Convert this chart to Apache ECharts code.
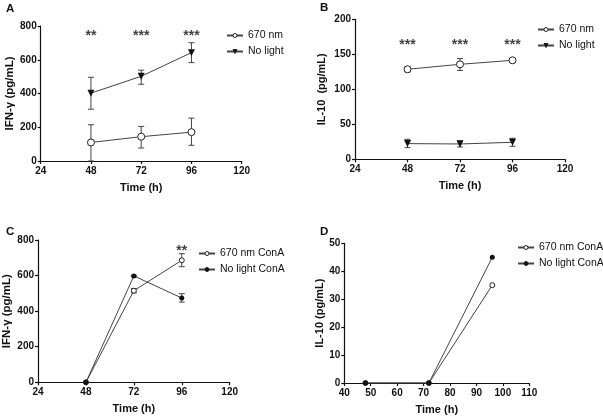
<!DOCTYPE html>
<html>
<head>
<meta charset="utf-8">
<script src="https://cdn.jsdelivr.net/npm/echarts@6/dist/echarts.min.js"></script>
<style>html,body{margin:0;padding:0;background:#fff;}#c{width:603px;height:419px;}</style>
</head>
<body>
<div id="c"></div>
<script>
// ---- data ----
const times = [48, 72, 96];
// Panel A: IFN-gamma
const aLightMean = [110, 144, 171];
const aLightLo   = [0, 77, 93];
const aLightHi   = [215, 205, 254];
const aDarkMean  = [402, 502, 642];
const aDarkLo    = [307, 455, 583];
const aDarkHi    = [496, 538, 701];
const aStars     = ['**', '***', '***'];
const aStarY     = 757;
// Panel B: IL-10
const bLightMean = [128.6, 135.7, 141.4];
const bLightLo   = [125, 127, 139.5];
const bLightHi   = [132, 144, 143.5];
const bDarkMean  = [22.4, 21.9, 24.3];
const bDarkLo    = [16.7, 17.6, 18.6];
const bDarkHi    = [28.6, 26.7, 30];
const bStars     = ['***', '***', '***'];
const bStarY     = 167;
// Panel C: IFN-gamma ConA
const cLightMean = [0, 515, 686];
const cLightLo   = [0, 503, 650];
const cLightHi   = [0, 527, 723];
const cDarkMean  = [0, 598, 474];
const cDarkLo    = [0, 594, 451];
const cDarkHi    = [0, 602, 498];
const cStarTimes = [96];
const cStars     = ['**'];
const cStarY     = 757;
// Panel D: IL-10 ConA
const dLightMean = [0, 0, 35];
const dDarkMean  = [0, 0, 45];

const seriesNamesAB = ['670 nm', 'No light'];
const seriesNamesCD = ['670 nm ConA', 'No light ConA'];

// ---- helpers ----
const FONT = 'Liberation Sans, Arial, sans-serif';
const INK = '#111';
const LINE = '#444';
const pairs = (xs, ys) => xs.map((x, i) => [x, ys[i]]);
const triples = (xs, lo, hi) => xs.map((x, i) => [x, lo[i], hi[i]]);

function errSeries(idx, xs, lo, hi) {
  return {
    type: 'custom', xAxisIndex: idx, yAxisIndex: idx, silent: true, z: 3,
    data: triples(xs, lo, hi),
    renderItem: function (params, api) {
      const x = api.value(0);
      const top = api.coord([x, api.value(2)]);
      const bot = api.coord([x, api.value(1)]);
      const w = 3;
      const st = { stroke: LINE, lineWidth: 1 };
      return {
        type: 'group', children: [
          { type: 'line', shape: { x1: top[0], y1: top[1], x2: bot[0], y2: bot[1] }, style: st },
          { type: 'line', shape: { x1: top[0] - w, y1: top[1], x2: top[0] + w, y2: top[1] }, style: st },
          { type: 'line', shape: { x1: bot[0] - w, y1: bot[1], x2: bot[0] + w, y2: bot[1] }, style: st }
        ]
      };
    }
  };
}
function lineSeries(idx, name, xs, ys, kind, size) {
  const hollow = kind === 'hollow';
  return {
    type: 'line', name: name, xAxisIndex: idx, yAxisIndex: idx, z: 4,
    data: pairs(xs, ys),
    symbol: kind === 'tri' ? 'triangle' : 'circle',
    symbolRotate: kind === 'tri' ? 180 : 0,
    symbolSize: size,
    showAllSymbol: true,
    lineStyle: { color: LINE, width: 1 },
    itemStyle: { color: hollow ? '#fff' : '#111', borderColor: '#222', borderWidth: hollow ? 1 : 0 },
    emphasis: { disabled: true }
  };
}
function starSeries(idx, xs, y, labels) {
  return {
    type: 'scatter', xAxisIndex: idx, yAxisIndex: idx, symbolSize: 1, silent: true,
    itemStyle: { color: 'rgba(0,0,0,0)' },
    data: xs.map((x, i) => [x, y, labels[i]]),
    label: {
      show: true, position: 'inside', offset: [0, 3], fontFamily: FONT, fontWeight: 'bold', fontSize: 14, color: INK,
      formatter: p => p.data[2]
    }
  };
}
function xAxis(idx, min, max, interval) {
  return {
    type: 'value', gridIndex: idx, min: min, max: max, interval: interval,
    name: 'Time (h)', nameLocation: 'middle', nameGap: 21,
    nameTextStyle: { fontFamily: FONT, fontWeight: 'bold', fontSize: 11, color: INK },
    axisLine: { lineStyle: { color: INK, width: 1.2 } },
    axisTick: { show: true, length: 3, lineStyle: { color: INK, width: 1.2 } },
    axisLabel: { fontFamily: FONT, fontWeight: 'bold', fontSize: 10, color: INK, margin: 5 },
    splitLine: { show: false }
  };
}
function yAxis(idx, max, interval, name, gap, nameSize) {
  return {
    type: 'value', gridIndex: idx, min: 0, max: max, interval: interval,
    name: name, nameLocation: 'middle', nameGap: gap, nameRotate: 90,
    nameTextStyle: { fontFamily: FONT, fontWeight: 'bold', fontSize: nameSize, color: INK },
    axisLine: { show: true, lineStyle: { color: INK, width: 1.2 } },
    axisTick: { show: true, length: 3, lineStyle: { color: INK, width: 1.2 } },
    axisLabel: { fontFamily: FONT, fontWeight: 'bold', fontSize: 10, color: INK, margin: 4 },
    splitLine: { show: false }
  };
}
function legend(names, left, top) {
  return {
    left: left, top: top, orient: 'vertical', itemWidth: 16, itemHeight: 5, itemGap: 5,
    data: names, selectedMode: false,
    itemStyle: { borderWidth: 1 },
    textStyle: { fontFamily: FONT, fontSize: 10.5, lineHeight: 11, color: INK },
    padding: 0
  };
}
const titleStyle = { fontFamily: FONT, fontWeight: 'bold', fontSize: 11.5, color: INK };

const option = {
  animation: false,
  backgroundColor: '#fff',
  title: [
    { text: 'A', left: 6, top: 3, padding: 0, textStyle: titleStyle },
    { text: 'B', left: 320, top: 2, padding: 0, textStyle: titleStyle },
    { text: 'C', left: 6, top: 226, padding: 0, textStyle: titleStyle },
    { text: 'D', left: 320, top: 226, padding: 0, textStyle: titleStyle }
  ],
  grid: [
    { left: 40.7, top: 26, width: 201, height: 135 },
    { left: 355, top: 19.3, width: 210, height: 140 },
    { left: 37.7, top: 240, width: 192, height: 142.3 },
    { left: 344.3, top: 243.3, width: 185, height: 139.7 }
  ],
  xAxis: [xAxis(0, 24, 120, 24), xAxis(1, 24, 120, 24), xAxis(2, 24, 120, 24), xAxis(3, 40, 110, 10)],
  yAxis: [
    yAxis(0, 800, 200, 'IFN-γ (pg/mL)', 25, 11.5),
    yAxis(1, 200, 50, 'IL-10  (pg/mL)', 28, 11),
    yAxis(2, 800, 200, 'IFN-γ (pg/mL)', 25, 11.5),
    yAxis(3, 50, 10, 'IL-10 (pg/mL)', 19, 11)
  ],
  legend: [
    legend(seriesNamesAB, 226, 30),
    legend(seriesNamesAB, 537, 24),
    legend(seriesNamesCD, 198, 248),
    legend(seriesNamesCD, 517, 242)
  ],
  series: [
    // A
    errSeries(0, times, aLightLo, aLightHi),
    errSeries(0, times, aDarkLo, aDarkHi),
    lineSeries(0, '670 nm', times, aLightMean, 'hollow', 7),
    lineSeries(0, 'No light', times, aDarkMean, 'tri', 7),
    starSeries(0, times, aStarY, aStars),
    // B
    errSeries(1, times, bLightLo, bLightHi),
    errSeries(1, times, bDarkLo, bDarkHi),
    lineSeries(1, '670 nm', times, bLightMean, 'hollow', 7),
    lineSeries(1, 'No light', times, bDarkMean, 'tri', 7),
    starSeries(1, times, bStarY, bStars),
    // C
    errSeries(2, times, cLightLo, cLightHi),
    errSeries(2, times, cDarkLo, cDarkHi),
    lineSeries(2, '670 nm ConA', times, cLightMean, 'hollow', 5),
    lineSeries(2, 'No light ConA', times, cDarkMean, 'circle', 5),
    starSeries(2, cStarTimes, cStarY, cStars),
    // D
    lineSeries(3, '670 nm ConA', times, dLightMean, 'hollow', 5),
    lineSeries(3, 'No light ConA', times, dDarkMean, 'circle', 5)
  ]
};

const chart = echarts.init(document.getElementById('c'), null, { renderer: 'canvas' });
chart.setOption(option);
</script>
</body>
</html>
